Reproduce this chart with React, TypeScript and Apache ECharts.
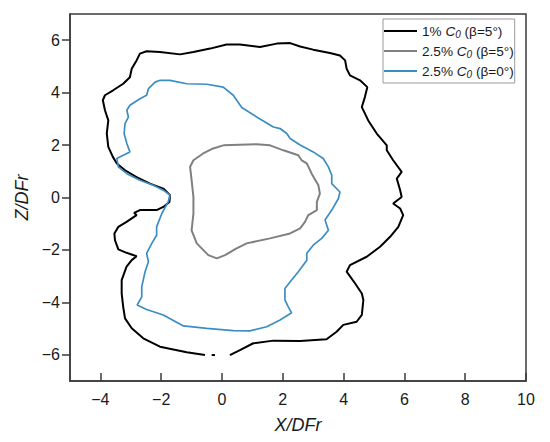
import React, { useEffect, useRef } from "react";
import * as echarts from "echarts";

const xTicks = [-4, -2, 0, 2, 4, 6, 8, 10];
const yTicks = [-6, -4, -2, 0, 2, 4, 6];

const seriesNames = ["1% C0 (β=5°)", "2.5% C0 (β=5°)", "2.5% C0 (β=0°)"];

const black1: number[][] = [
  [0.26, -6.01], [0.59, -5.82], [1.03, -5.56], [1.69, -5.46], [2.57, -5.47], [3.44, -5.41],
  [3.77, -5.12], [3.99, -4.86], [4.43, -4.74], [4.6, -4.48], [4.65, -3.91], [4.6, -3.66],
  [4.38, -3.28], [4.1, -2.83], [4.21, -2.58], [4.76, -2.26], [5.2, -1.88], [5.53, -1.5],
  [5.8, -1.12], [5.96, -0.67], [5.86, -0.42], [5.63, -0.23], [5.91, 0.02], [5.86, 0.28],
  [5.75, 0.72], [5.91, 0.98], [5.63, 1.42], [5.42, 1.8], [5.42, 1.99], [5.09, 2.44],
  [4.81, 2.94], [4.6, 3.45], [4.7, 3.83], [4.78, 4.21], [4.54, 4.47], [4.21, 4.66],
  [4.1, 4.91], [4.05, 5.23], [3.88, 5.42], [3.55, 5.51], [3.0, 5.64], [2.57, 5.76],
  [2.24, 5.89], [1.8, 5.87], [1.25, 5.74], [0.59, 5.84], [0.15, 5.84], [-0.39, 5.68],
  [-0.94, 5.55], [-1.38, 5.46], [-2.04, 5.55], [-2.48, 5.58], [-2.7, 5.49], [-2.81, 5.23],
  [-2.97, 4.91], [-3.03, 4.59], [-3.25, 4.34], [-3.58, 4.09], [-3.85, 3.9], [-3.92, 3.71],
  [-3.85, 3.33], [-3.74, 2.94], [-3.79, 2.44], [-3.74, 1.93], [-3.59, 1.55], [-3.46, 1.3],
  [-3.19, 1.04], [-2.81, 0.78], [-2.37, 0.53], [-1.93, 0.34], [-1.71, 0.09], [-1.73, -0.17],
  [-1.93, -0.36], [-2.15, -0.48], [-2.7, -0.48], [-2.89, -0.59], [-2.81, -0.67], [-3.14, -0.93],
  [-3.41, -1.12], [-3.54, -1.37], [-3.52, -1.63], [-3.41, -1.98], [-3.14, -2.11], [-2.81, -2.24],
  [-2.97, -2.39], [-3.14, -2.64], [-3.3, -3.15], [-3.3, -3.66], [-3.25, -4.17], [-3.19, -4.61],
  [-2.97, -4.99], [-2.59, -5.37], [-2.04, -5.69], [-1.16, -5.9], [-0.56, -6.01],
];
const black1Dash: number[][] = [[-0.34, -6.01], [-0.23, -6.01]];

const grey25: number[][] = [
  [0.04, 1.99], [1.14, 2.03], [1.58, 1.99], [2.02, 1.8], [2.51, 1.61], [2.62, 1.42],
  [2.79, 1.3], [2.95, 0.91], [3.17, 0.47], [3.22, 0.15], [3.12, -0.17], [3.12, -0.48],
  [2.84, -0.67], [2.73, -0.93], [2.57, -1.18], [2.24, -1.37], [1.58, -1.56], [0.81, -1.75],
  [0.48, -1.94], [0.1, -2.2], [-0.17, -2.32], [-0.45, -2.2], [-0.83, -1.75], [-1.0, -1.25],
  [-0.94, -0.61], [-0.94, 0.02], [-1.0, 0.66], [-1.05, 1.17], [-0.94, 1.42], [-0.62, 1.68],
  [-0.29, 1.87], [0.04, 1.99],
];

const blue25: number[][] = [
  [-2.04, 4.47], [-1.71, 4.47], [-1.16, 4.34], [-0.5, 4.32], [0.04, 4.21], [0.37, 3.9],
  [0.65, 3.43], [1.14, 3.07], [1.69, 2.69], [1.91, 2.63], [2.13, 2.44], [2.24, 2.25],
  [2.57, 2.0], [3.0, 1.74], [3.33, 1.49], [3.5, 1.17], [3.61, 0.85], [3.61, 0.53],
  [3.88, 0.21], [3.83, -0.04], [3.61, -0.48], [3.39, -0.86], [3.5, -1.25], [3.28, -1.56],
  [3.0, -1.82], [2.79, -2.13], [2.79, -2.39], [2.51, -2.83], [2.29, -3.15], [2.07, -3.47],
  [2.07, -3.91], [2.18, -4.17], [2.29, -4.4], [1.91, -4.67], [1.47, -4.93], [0.92, -5.09],
  [0.37, -5.08], [-0.5, -4.99], [-1.27, -4.9], [-1.93, -4.48], [-2.48, -4.27], [-2.79, -4.1],
  [-2.64, -3.79], [-2.64, -3.41], [-2.53, -2.83], [-2.42, -2.45], [-2.48, -2.13], [-2.31, -1.75],
  [-2.15, -1.44], [-2.15, -1.12], [-1.98, -0.61], [-1.77, -0.17], [-1.71, 0.09], [-1.93, 0.28],
  [-2.26, 0.47], [-2.7, 0.66], [-3.13, 0.91], [-3.41, 1.17], [-3.46, 1.49], [-3.25, 1.61],
  [-3.03, 1.74], [-3.13, 2.06], [-3.22, 2.44], [-3.19, 2.82], [-3.08, 3.07], [-3.13, 3.33],
  [-3.03, 3.52], [-2.7, 3.77], [-2.48, 3.9], [-2.42, 4.15], [-2.2, 4.4], [-2.04, 4.47],
];

const FONT = "'Liberation Sans', Arial, sans-serif";
const fmt = (v: number) => String(v).replace("-", "\u2212");

export default function App() {
  const ref = useRef<HTMLDivElement>(null);
  useEffect(() => {
    if (!ref.current) return;
    const chart = echarts.init(ref.current, undefined, { renderer: "svg" });
    const lineSeries = (name: string, data: number[][], color: string, width: number) => ({
      name,
      type: "line",
      data,
      showSymbol: false,
      symbol: "none",
      smooth: false,
      lineStyle: { color, width },
      itemStyle: { color },
      z: 3,
    });
    chart.setOption({
      animation: false,
      backgroundColor: "#fff",
      grid: {
        left: 70, right: 24, top: 14, bottom: 61,
        show: true, borderColor: "#3a3a3a", borderWidth: 1.5,
      },
      xAxis: {
        type: "value", min: -5, max: 10,
        name: "X/DFr", nameLocation: "middle", nameGap: 35,
        nameTextStyle: { fontFamily: FONT, fontSize: 18, fontStyle: "italic", color: "#1a1a1a" },
        axisLine: { show: true, onZero: false, lineStyle: { color: "#3a3a3a", width: 1.5 } },
        axisTick: { show: true, inside: true, length: 8, customValues: xTicks, lineStyle: { color: "#3a3a3a", width: 1.5 } },
        axisLabel: { customValues: xTicks, margin: 10, fontFamily: FONT, fontSize: 16, color: "#1a1a1a", formatter: fmt },
        splitLine: { show: false },
      },
      yAxis: {
        type: "value", min: -7, max: 7,
        name: "Z/DFr", nameLocation: "middle", nameGap: 34, nameRotate: 90,
        nameTextStyle: { fontFamily: FONT, fontSize: 18, fontStyle: "italic", color: "#1a1a1a" },
        axisLine: { show: true, onZero: false, lineStyle: { color: "#3a3a3a", width: 1.5 } },
        axisTick: { show: true, inside: false, length: 8, customValues: yTicks, lineStyle: { color: "#3a3a3a", width: 1.5 } },
        axisLabel: { customValues: yTicks, margin: 10, fontFamily: FONT, fontSize: 16, color: "#1a1a1a", formatter: fmt },
        splitLine: { show: false },
      },
      legend: {
        data: seriesNames,
        orient: "vertical",
        left: 383, top: 19,
        padding: [4, 1, 4, 1],
        backgroundColor: "#fff",
        borderColor: "#9a9a9a", borderWidth: 1,
        icon: "rect", itemWidth: 33, itemHeight: 2, itemGap: 4,
        textStyle: {
          fontFamily: FONT, fontSize: 13.6, color: "#1a1a1a", lineHeight: 16,
          rich: {
            i: { fontFamily: FONT, fontSize: 13.6, fontStyle: "italic", color: "#1a1a1a" },
            s: { fontFamily: FONT, fontSize: 10, fontStyle: "italic", color: "#1a1a1a", verticalAlign: "bottom", padding: [6, 0, 0, 0] },
          },
        },
        formatter: (n: string) => n.replace("C0", "{i|C}{s|0}"),
      },
      series: [
        lineSeries(seriesNames[0], black1, "#000000", 2),
        lineSeries(seriesNames[1], grey25, "#808080", 2),
        lineSeries(seriesNames[2], blue25, "#3b8ec4", 1.7),
        { ...lineSeries("dash", black1Dash, "#000000", 2) },
      ],
    });
    return () => chart.dispose();
  }, []);
  return <div ref={ref} style={{ position: "fixed", left: 0, top: 0, width: 550, height: 442 }} />;
}
